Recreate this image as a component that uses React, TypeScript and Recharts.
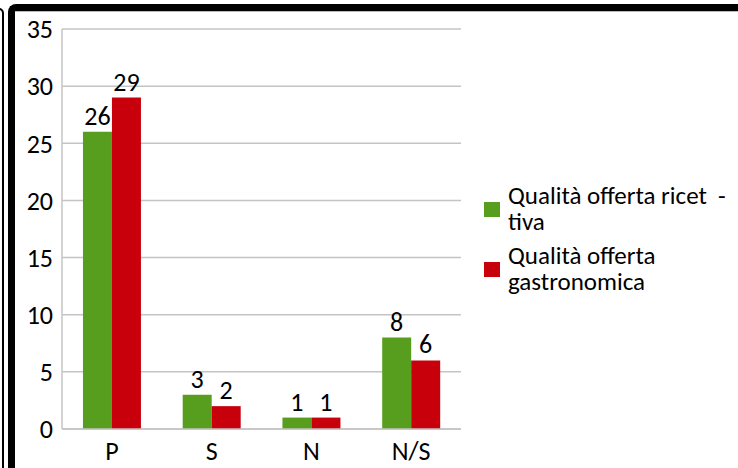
import { Bar, BarChart, CartesianGrid, LabelList, XAxis, YAxis } from "recharts";

const categories = ["P", "S", "N", "N/S"];
const ricettiva = [26, 3, 1, 8];
const gastronomica = [29, 2, 1, 6];
const yTicks = [0, 5, 10, 15, 20, 25, 30, 35];

const seriesNames = ["Qualità offerta ricet  -\ntiva", "Qualità offerta\ngastronomica"];
const seriesColors = ["#589e1e", "#c8000c"];

const rows = categories.map((c, i) => ({
  cat: c,
  ricettiva: ricettiva[i],
  gastronomica: gastronomica[i],
}));

const FONT = "Calibri, Carlito, Lato, sans-serif";
const GRID = "#c4c4c4";
const FS = 26;

export default function App() {
  return (
    <div style={{ position: "absolute", left: 0, top: 0, width: 738, height: 468, background: "#fff", fontFamily: FONT, overflow: "hidden" }}>
      {/* frame edges */}
      <div style={{ position: "absolute", left: -12, top: 8, width: 12, height: 500, border: "2px solid #000", borderRadius: 5 }} />
      <div style={{ position: "absolute", left: 8, top: 4, width: 760, height: 520, borderLeft: "7px solid #000", borderTop: "7px solid #000", borderTopLeftRadius: 8 }} />
      <div style={{ position: "absolute", left: 15, top: 11, width: 723, height: 1, background: "#bbb" }} />

      <div style={{ position: "absolute", left: 0, top: 0 }}>
        <BarChart
          width={738}
          height={468}
          data={rows}
          margin={{ top: 29, right: 277, bottom: 0, left: 0 }}
          barCategoryGap="21%"
          barGap={0}
        >
          <CartesianGrid stroke={GRID} strokeWidth={1.5} vertical={false} />
          <XAxis
            dataKey="cat"
            height={39}
            axisLine={{ stroke: GRID, strokeWidth: 1.5 }}
            tickLine={false}
            tickMargin={7}
            tick={{ fill: "#000", fontSize: FS, fontFamily: FONT }}
          />
          <YAxis
            width={62}
            domain={[0, 35]}
            ticks={yTicks}
            interval={0}
            axisLine={{ stroke: GRID, strokeWidth: 1.5 }}
            tickLine={false}
            tickSize={0}
            tickMargin={9}
            tick={{ fill: "#000", fontSize: FS, fontFamily: FONT }}
          />
          <YAxis
            yAxisId="edge"
            orientation="right"
            width={0}
            domain={[0, 35]}
            tick={false}
            tickLine={false}
            axisLine={{ stroke: GRID, strokeWidth: 1.5 }}
          />
          <Bar dataKey="ricettiva" fill={seriesColors[0]} isAnimationActive={false}>
            <LabelList dataKey="ricettiva" position="top" offset={7} fill="#000" fontSize={FS} fontFamily={FONT} />
          </Bar>
          <Bar dataKey="gastronomica" fill={seriesColors[1]} isAnimationActive={false}>
            <LabelList dataKey="gastronomica" position="top" offset={7} fill="#000" fontSize={FS} fontFamily={FONT} />
          </Bar>
        </BarChart>
      </div>

      {/* legend */}
      <div style={{ position: "absolute", left: 484, top: 183, width: 254 }}>
        {seriesNames.map((name, i) => (
          <div key={name} style={{ display: "flex", alignItems: "center", marginBottom: 8 }}>
            <div style={{ width: 16, height: 15, background: seriesColors[i], marginRight: 8, flex: "none" }} />
            <div style={{ fontSize: 25, lineHeight: "26px", color: "#000", whiteSpace: "pre" }}>{name}</div>
          </div>
        ))}
      </div>
    </div>
  );
}
